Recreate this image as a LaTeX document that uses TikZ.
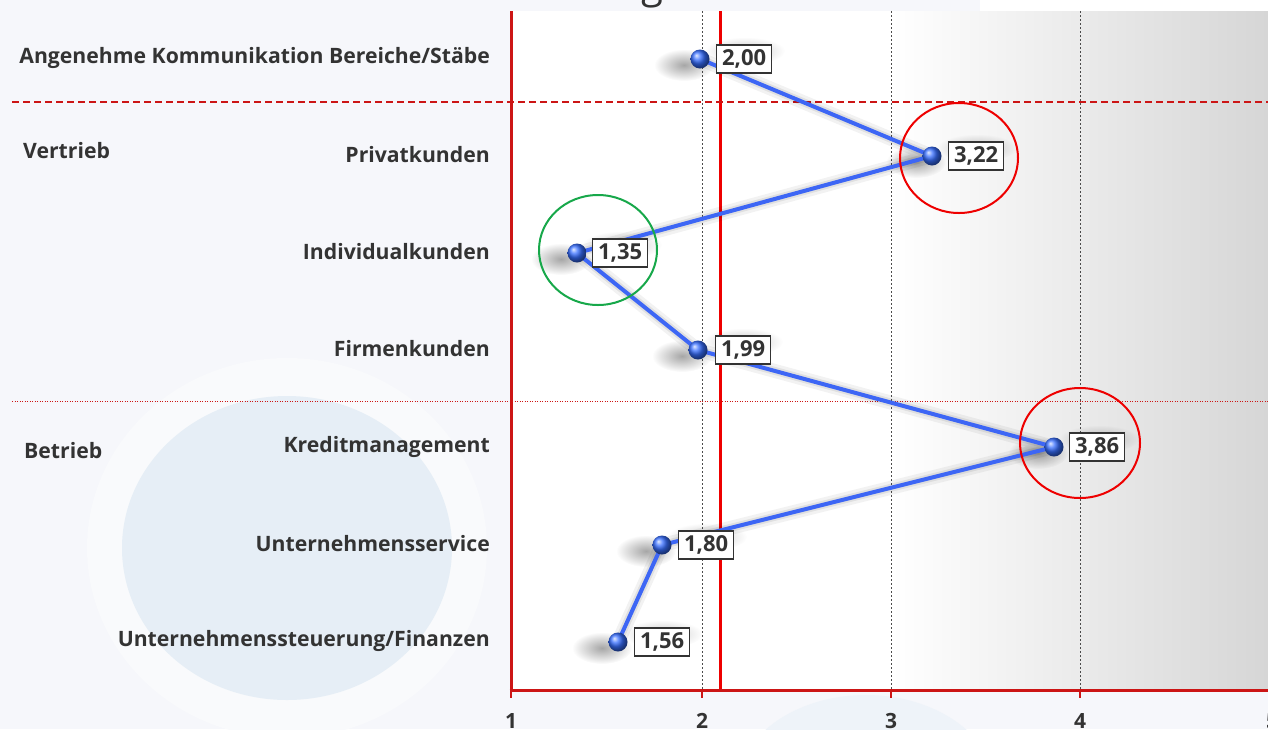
\documentclass[tikz,border=0pt]{standalone}
\usepackage{fontspec}
\setmainfont{Open Sans}
\usetikzlibrary{fadings}
\definecolor{bg}{HTML}{F6F7FB}
\definecolor{pale}{HTML}{E6EEF6}
\definecolor{ring}{HTML}{F9FAFC}
\definecolor{axred}{HTML}{CC1515}
\definecolor{vred}{HTML}{EE0000}
\definecolor{lineblue}{HTML}{3D66F5}
\definecolor{txt}{HTML}{333333}
\definecolor{grayend}{HTML}{D6D6D6}
\definecolor{circgreen}{HTML}{17A84A}
\tikzfading[name=fuzzy, inner color=transparent!0, outer color=transparent!100]
\begin{document}
\begin{tikzpicture}[x=1pt,y=-1pt,
  rowlabel/.style={anchor=east, inner sep=0pt, text=txt, font=\bfseries\fontsize{21.2}{23}\selectfont},
  grouplabel/.style={anchor=west, inner sep=0pt, text=txt, font=\bfseries\fontsize{21.2}{23}\selectfont},
  ticklabel/.style={anchor=north, inner sep=0pt, text=txt, font=\bfseries\fontsize{21}{23}\selectfont},
  valbox/.style={draw=txt, fill=white, line width=1.3pt, minimum width=55pt, minimum height=28pt, inner sep=0pt, anchor=west, text=txt, font=\bfseries\fontsize{22}{24}\selectfont},
  ballnode/.style={circle, minimum size=19pt, inner sep=0pt, shading=ball, ball color={rgb,255:red,55;green,110;blue,255}},
  gridline/.style={draw=black!70, line width=0.6pt, dash pattern=on 2pt off 2pt},
  axisline/.style={draw=axred, line width=3pt},
  dataline/.style={draw=lineblue, line width=4pt},
  shadowline/.style={draw=black, line cap=round, line join=round},
  markcircle/.style={line width=2pt}
]
\useasboundingbox (0,0) rectangle (1268,729);
% background
\fill[bg] (0,0) rectangle (1268,729);
\fill[white] (980,0) rectangle (1268,11);
\fill[ring] (287,548) ellipse [x radius=200, y radius=190];
\fill[pale] (287,548) ellipse [x radius=165, y radius=152];
\fill[pale!50!bg] (866,790) ellipse [x radius=130, y radius=95];
% title remnant
\node[anchor=base, text=txt, inner sep=0pt, font=\fontsize{40}{44}\selectfont] (title) at (652,-2) {g};
% plot area
\fill[white] (511,11) rectangle (1268,690);
\shade[left color=white, right color=grayend] (891,11) rectangle (1268,690);
% grid
\foreach \gx in {702,891,1080} \draw[gridline] (\gx,11) -- (\gx,690);
\draw[draw=vred, line width=3pt] (720,11) -- (720,690);
\draw[axisline] (511,11) -- (511,691.5);
\draw[axisline] (509.5,690) -- (1268,690);
\foreach \gx in {511,702,891,1080} \draw[draw=axred, line width=2pt] (\gx,690) -- (\gx,698);
% separators
\draw[draw=axred, line width=2pt, dash pattern=on 7pt off 4pt] (12,102) -- (1268,102);
\draw[draw=axred, line width=0.9pt, dash pattern=on 1pt off 1.5pt] (12,401) -- (1268,401);
% tick labels
\node[ticklabel] (t1) at (511,713) {1};
\node[ticklabel] (t2) at (702,713) {2};
\node[ticklabel] (t3) at (891,713) {3};
\node[ticklabel] (t4) at (1080,713) {4};
\node[ticklabel] (t5) at (1272,713) {5};
% labels
\node[rowlabel] (r1) at (490,58) {Angenehme Kommunikation Bereiche/Stäbe};
\node[rowlabel] (r2) at (490,155) {Privatkunden};
\node[rowlabel] (r3) at (490,252) {Individualkunden};
\node[rowlabel] (r4) at (490,349) {Firmenkunden};
\node[rowlabel] (r5) at (490,447) {Kreditmanagement};
\node[rowlabel] (r6) at (490,544) {Unternehmensservice};
\node[rowlabel] (r7) at (490,641) {Unternehmenssteuerung/Finanzen};
\node[grouplabel] (gV) at (23,151) {Vertrieb};
\node[grouplabel] (gB) at (24,451) {Betrieb};
% data coordinates
\coordinate (p1) at (700,59);
\coordinate (p2) at (932,156);
\coordinate (p3) at (577,253);
\coordinate (p4) at (698,350);
\coordinate (p5) at (1054,447);
\coordinate (p6) at (662,545);
\coordinate (p7) at (618,642);
% shadows
\begin{scope}[shift={(-8,10)}]
  \draw[shadowline, line width=14pt, opacity=0.05] (p1) -- (p2) -- (p3) -- (p4) -- (p5) -- (p6) -- (p7);
  \draw[shadowline, line width=8pt, opacity=0.07] (p1) -- (p2) -- (p3) -- (p4) -- (p5) -- (p6) -- (p7);
  \draw[shadowline, line width=3pt, opacity=0.08] (p1) -- (p2) -- (p3) -- (p4) -- (p5) -- (p6) -- (p7);
\end{scope}
\foreach \p in {p1,p2,p3,p4,p5,p6,p7} {
  \fill[black, opacity=0.35, path fading=fuzzy] ([shift={(-16,6)}]\p) ellipse [x radius=30, y radius=16];
  \fill[black, opacity=0.22, path fading=fuzzy] ([shift={(45,-8)}]\p) ellipse [x radius=40, y radius=14];
}
% data line
\draw[dataline] (p1) -- (p2) -- (p3) -- (p4) -- (p5) -- (p6) -- (p7);
% balls
\node[ballnode] (m1) at (p1) {};
\node[ballnode] (m2) at (p2) {};
\node[ballnode] (m3) at (p3) {};
\node[ballnode] (m4) at (p4) {};
\node[ballnode] (m5) at (p5) {};
\node[ballnode] (m6) at (p6) {};
\node[ballnode] (m7) at (p7) {};
% value boxes
\node[valbox] (v1) at ([xshift=16]p1) {2,00};
\node[valbox] (v2) at ([xshift=16]p2) {3,22};
\node[valbox] (v3) at ([xshift=15]p3) {1,35};
\node[valbox] (v4) at ([xshift=17]p4) {1,99};
\node[valbox] (v5) at ([xshift=15]p5) {3,86};
\node[valbox] (v6) at ([xshift=16]p6) {1,80};
\node[valbox] (v7) at ([xshift=16]p7) {1,56};
% highlight circles
\draw[markcircle, draw=vred] (959,158) ellipse [x radius=59, y radius=55];
\draw[markcircle, draw=vred] (1080,443) ellipse [x radius=60, y radius=55];
\draw[markcircle, draw=circgreen] (598,250) ellipse [x radius=59, y radius=55];
\end{tikzpicture}
\end{document}
